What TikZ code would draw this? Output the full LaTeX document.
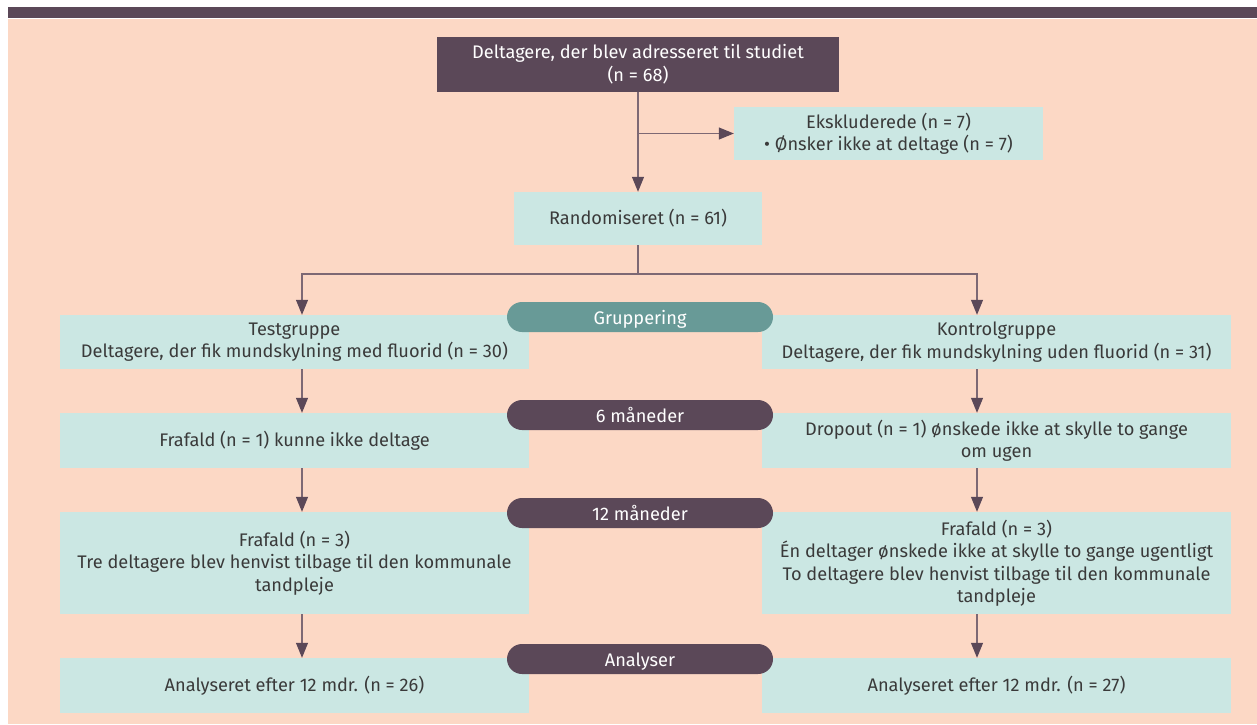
\documentclass[tikz,border=0pt]{standalone}
\usepackage{fontspec}
\setmainfont{Fira Sans}
\usetikzlibrary{arrows.meta}
\definecolor{peach}{HTML}{FCD8C5}
\definecolor{boxfill}{HTML}{CBE7E3}
\definecolor{darkp}{HTML}{5B4858}
\definecolor{tealp}{HTML}{689A97}
\definecolor{linec}{HTML}{7D6874}
\definecolor{txt}{HTML}{3A3A3A}
\tikzset{
  every node/.style={font=\fontsize{18.2}{22.5}\selectfont, align=center, inner sep=0pt},
  lbox/.style={fill=boxfill, text=txt, minimum width=469pt},
  topbox/.style={fill=darkp, text=white},
  pill/.style={rounded corners=15pt, minimum width=266pt, minimum height=30pt, text=white, text height=16.5pt, text depth=2pt},
  conn/.style={draw=linec, line width=1.1pt},
  arr/.style={conn, -{Triangle[length=15pt,width=12pt,color=darkp]}},
}
\begin{document}
\begin{tikzpicture}[x=1pt,y=-1pt]
\useasboundingbox (0,0) rectangle (1257,724);
\fill[white] (0,0) rectangle (1257,724);
\fill[peach] (8,19) rectangle (1257,724);
\fill[darkp] (8,7) rectangle (1257,18);

\node[topbox, minimum width=402pt, minimum height=55pt] (top) at (638,64) {Deltagere, der blev adresseret til studiet\\(n = 68)};
\node[lbox, minimum width=309pt, minimum height=53pt] (eks) at (888.5,133.5) {Ekskluderede (n = 7)\\• Ønsker ikke at deltage (n = 7)};
\node[lbox, minimum width=248pt, minimum height=53pt] (rand) at (638,218.5) {Randomiseret (n = 61)};

\node[lbox, minimum height=54pt] (tg) at (294.5,342) {Testgruppe\\Deltagere, der fik mundskylning med fluorid (n = 30)};
\node[lbox, minimum height=54pt] (kg) at (996.5,342) {Kontrolgruppe\\Deltagere, der fik mundskylning uden fluorid (n = 31)};
\node[lbox, minimum height=55pt] (f1l) at (294.5,440.5) {Frafald (n = 1) kunne ikke deltage};
\node[lbox, minimum height=55pt] (f1r) at (996.5,440.5) {Dropout (n = 1) ønskede ikke at skylle to gange\\om ugen};
\node[lbox, minimum height=102pt] (f2l) at (294.5,563) {Frafald (n = 3)\\Tre deltagere blev henvist tilbage til den kommunale\\tandpleje};
\node[lbox, minimum height=102pt] (f2r) at (996.5,563) {Frafald (n = 3)\\Én deltager ønskede ikke at skylle to gange ugentligt\\To deltagere blev henvist tilbage til den kommunale\\tandpleje};
\node[lbox, minimum height=55pt] (anl) at (294.5,685.5) {Analyseret efter 12 mdr. (n = 26)};
\node[lbox, minimum height=55pt] (anr) at (996.5,685.5) {Analyseret efter 12 mdr. (n = 27)};

\node[pill, fill=tealp] (p1) at (640,317) {Gruppering};
\node[pill, fill=darkp] (p2) at (640,415) {6 måneder};
\node[pill, fill=darkp] (p3) at (640,513) {12 måneder};
\node[pill, fill=darkp] (p4) at (640,659) {Analyser};

\coordinate (ax) at (302,0);
\coordinate (bx) at (977,0);
\coordinate (br) at (638,133.5);
\coordinate (sp) at (638,274);

\draw[arr] (top.south) -- (rand.north);
\draw[arr] (br) -- (eks.west);
\draw[conn] (rand.south) -- (sp);
\draw[arr] (sp) -| (tg.north -| ax);
\draw[arr] (sp) -| (kg.north -| bx);
\draw[arr] (tg.south -| ax) -- (f1l.north -| ax);
\draw[arr] (f1l.south -| ax) -- (f2l.north -| ax);
\draw[arr] (f2l.south -| ax) -- (anl.north -| ax);
\draw[arr] (kg.south -| bx) -- (f1r.north -| bx);
\draw[arr] (f1r.south -| bx) -- (f2r.north -| bx);
\draw[arr] (f2r.south -| bx) -- (anr.north -| bx);
\end{tikzpicture}
\end{document}
